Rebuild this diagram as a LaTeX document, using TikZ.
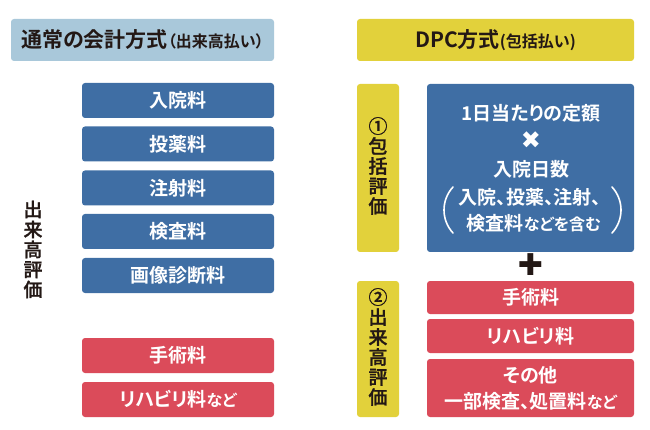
\documentclass[tikz,border=0pt]{standalone}
\usepackage{fontspec}
\setmainfont{Noto Sans CJK JP}[BoldFont={Noto Sans CJK JP Bold},RawFeature={+palt}]
\newfontfamily\medfont{Noto Sans CJK JP Medium}[FakeBold=1.2]
\newfontfamily\symfont{DejaVu Sans}
\definecolor{hdrblue}{HTML}{A9C8DA}
\definecolor{hdryellow}{HTML}{E2D13B}
\definecolor{boxblue}{HTML}{3F6EA4}
\definecolor{boxred}{HTML}{DB4B5A}
\definecolor{ink}{HTML}{231815}
\tikzset{
  base/.style={rounded corners=3pt, inner sep=0pt, align=center},
  hdr/.style={base, text=ink, font=\bfseries\fontsize{21}{24}\selectfont},
  bluebox/.style={base, fill=boxblue, text=white, font=\bfseries\fontsize{19}{22}\selectfont},
  redbox/.style={base, fill=boxred, text=white, font=\bfseries\fontsize{19}{22}\selectfont},
  lbox/.style={minimum width=192pt, minimum height=35pt},
  vlabel/.style={align=center, text=ink, inner sep=0pt, font=\medfont\fontsize{19}{20}\selectfont},
  intext/.style={text=white, inner sep=0pt, font=\bfseries\fontsize{19}{22}\selectfont},
  paren/.style={draw=white, line width=1.6pt, line cap=round}
}
\newcommand{\smallkana}[1]{{\fontsize{16}{18}\selectfont #1}}
\begin{document}
\begin{tikzpicture}[x=1pt,y=-1pt]
\useasboundingbox (0,0) rectangle (650,430);
% headers
\node[hdr, fill=hdrblue, minimum width=263pt, minimum height=42pt] (hL) at (142.5,40)
  {通常の会計方式{\fontsize{16}{18}\selectfont （出来高払い）}};
\node[hdr, fill=hdryellow, minimum width=277pt, minimum height=42pt] (hR) at (495.5,40)
  {DPC方式{\fontsize{16}{18}\selectfont (包括払い)}};
% left column
\node[bluebox, lbox] (b1) at (178,100.5) {入院料};
\node[bluebox, lbox] (b2) at (178,144) {投薬料};
\node[bluebox, lbox] (b3) at (178,188) {注射料};
\node[bluebox, lbox] (b4) at (178,231.5) {検査料};
\node[bluebox, lbox] (b5) at (178,275.5) {画像診断料};
\node[redbox, lbox] (r1) at (178,355.5) {手術料};
\node[redbox, lbox] (r2) at (178,399.5) {リハビリ料\smallkana{など}};
\node[vlabel] (vL) at (33,249.5) {出\\来\\高\\評\\価};
% right column
\node[base, fill=hdryellow, minimum width=42pt, minimum height=168pt] (y1) at (378,168) {};
\node[vlabel] (v1) at (378,166) {①\\包\\括\\評\\価};
\node[base, fill=boxblue, minimum width=207pt, minimum height=168pt] (big) at (530.5,168) {};
\node[intext] (t1) at (531,113) {1日当たりの定額};
\node[text=white, inner sep=0pt, font=\symfont\bfseries\fontsize{24}{26}\selectfont] (times) at (531,140) {✖};
\node[intext] (t2) at (531,169) {入院日数};
\node[intext] (t3) at (530,197) {入院、投薬、注射、};
\node[intext] (t4) at (534,223) {検査料\smallkana{などを含む}};
\draw[paren] (453,187) .. controls (441,200) and (441,220) .. (453,233);
\draw[paren] (612,187) .. controls (624,200) and (624,220) .. (612,233);
\node[text=ink, inner sep=0pt, font=\symfont\bfseries\fontsize{30}{32}\selectfont] (plus) at (530.5,265) {✚};
\node[base, fill=hdryellow, minimum width=42pt, minimum height=136pt] (y2) at (378,349) {};
\node[vlabel] (v2) at (378,347) {②\\出\\来\\高\\評\\価};
\node[redbox, minimum width=207pt, minimum height=33pt] (s1) at (530.5,297.5) {手術料};
\node[redbox, minimum width=207pt, minimum height=34pt] (s2) at (530.5,336) {リハビリ料};
\node[redbox, minimum width=207pt, minimum height=58pt, font=\bfseries\fontsize{19}{26}\selectfont] (s3) at (530.5,388) {その他\\一部検査、処置料\smallkana{など}};
\end{tikzpicture}
\end{document}
